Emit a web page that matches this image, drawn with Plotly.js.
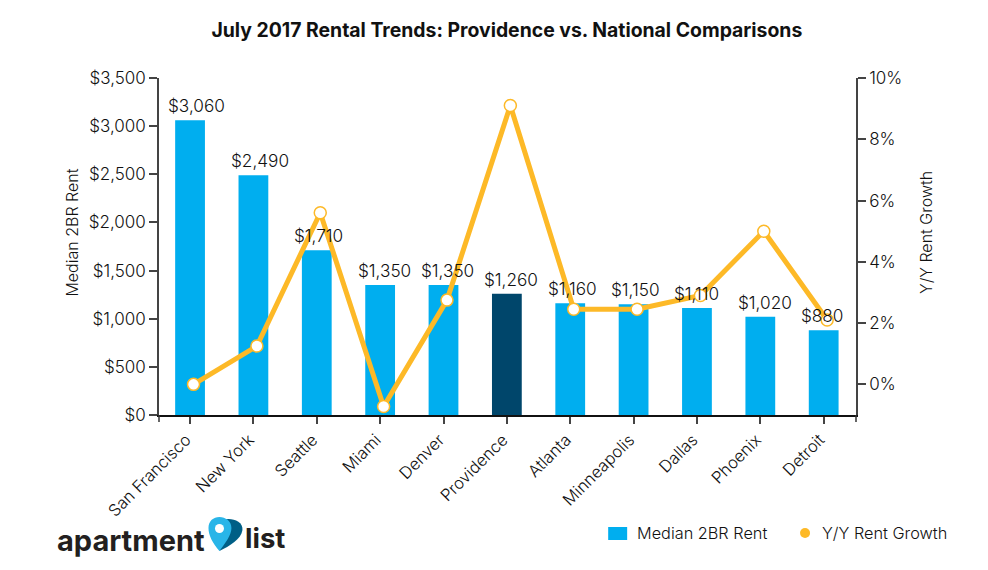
<!DOCTYPE html>
<html><head><meta charset="utf-8">
<script src="https://cdn.plot.ly/plotly-3.0.1.min.js"></script>
<style>html,body{margin:0;padding:0;background:#fff}#c{width:988px;height:570px}</style>
</head><body><div id="c"></div>
<script>
const cities=["San Francisco","New York","Seattle","Miami","Denver","Providence","Atlanta","Minneapolis","Dallas","Phoenix","Detroit"];
const rent=[3060,2490,1710,1350,1350,1260,1160,1150,1110,1020,880];
const growth=[0,1.25,5.6,-0.72,2.75,9.1,2.45,2.45,2.9,5.0,2.1];
const barColors=["#00AEEF","#00AEEF","#00AEEF","#00AEEF","#00AEEF","#00466B","#00AEEF","#00AEEF","#00AEEF","#00AEEF","#00AEEF"];
const rentTicks=[0,500,1000,1500,2000,2500,3000,3500];
const rentTickText=["$0","$500","$1,000","$1,500","$2,000","$2,500","$3,000","$3,500"];
const growthTicks=[0,2,4,6,8,10];
const growthTickText=["0%","2%","4%","6%","8%","10%"];
const F="Inter, sans-serif", INK="#111", YEL="#FDB927", BLUE="#00AEEF";
const W=988,H=570,L=158.5,R=856,T=78,B=415;
const px=(x)=>(x-L)/(R-L), py=(y)=>(B-y)/(B-T);
function pathPx(cmds){return cmds.map(c=>typeof c==="string"?c:px(c[0]).toFixed(4)+","+py(c[1]).toFixed(4)).join(" ");}
const light={family:F,color:INK,weight:300};
const traces=[
 {type:"bar",name:"Median 2BR Rent",x:cities,y:rent,marker:{color:barColors},width:0.47,yaxis:"y",showlegend:false},
 {type:"scatter",mode:"lines+markers",name:"Y/Y Rent Growth",x:cities,y:growth,xaxis:"x2",yaxis:"y2",showlegend:false,
  line:{color:YEL,width:5},marker:{size:12,color:"#fff",line:{color:YEL,width:1.5}},cliponaxis:false}
];
const annotations=cities.map((c,i)=>({x:c,y:rent[i],xref:"x",yref:"y",text:"$"+rent[i].toLocaleString("en-US"),
  showarrow:false,xanchor:"left",xshift:-24.5,yanchor:"bottom",yshift:2,font:Object.assign({},light,{size:17.2})}));
const note=(x,y,text,font,extra)=>Object.assign({xref:"paper",yref:"paper",x:px(x),y:py(y),text:text,showarrow:false,font:font,xanchor:"center",yanchor:"middle"},extra||{});
annotations.push(
 note(54,540,"apartment",{family:F,size:29,color:"#231f20",weight:700},{xanchor:"left"}),
 note(243,538,"list",{family:F,size:27.5,color:"#231f20",weight:700},{xanchor:"left"}),
 note(71,233,"Median 2BR Rent",Object.assign({},light,{size:16}),{textangle:-90}),
 note(926,232,"Y/Y Rent Growth",Object.assign({},light,{size:16}),{textangle:-90}),
 note(635,533,"Median 2BR Rent",Object.assign({},light,{size:16.3}),{xanchor:"left"}),
 note(820,533,"Y/Y Rent Growth",Object.assign({},light,{size:16.3}),{xanchor:"left"})
);
const shapes=[
 {type:"path",xref:"paper",yref:"paper",fillcolor:"#005F86",line:{width:0},
  path:pathPx(["M",[222,520],"C",[229,517],[243,520],[242,530],"C",[241,539],[229,546],[219,551],"Z"])},
 {type:"path",xref:"paper",yref:"paper",fillcolor:"#29B5E8",line:{width:0},
  path:pathPx(["M",[219,551],"C",[212,543],[208,535],[208,528],"C",[208,521],[213,517],[219,517],"C",[225,517],[231,521],[231,528],"C",[231,535],[225,543],[219,551],"Z"])},
 {type:"circle",xref:"paper",yref:"paper",x0:px(214.5),x1:px(223.5),y0:py(533),y1:py(524),fillcolor:"#fff",line:{width:0}},
 {type:"rect",xref:"paper",yref:"paper",x0:px(608),x1:px(627),y0:py(540),y1:py(527),fillcolor:BLUE,line:{width:0}},
 {type:"circle",xref:"paper",yref:"paper",x0:px(800),x1:px(810),y0:py(538),y1:py(528),fillcolor:YEL,line:{width:0}},
 {type:"line",xref:"paper",yref:"paper",x0:0,x1:0,y0:0,y1:py(422),line:{color:"#333",width:1.5}},
 {type:"line",xref:"paper",yref:"paper",x0:1,x1:1,y0:0,y1:py(422),line:{color:"#333",width:1.5}}
];
const axisLine={showline:true,linecolor:"#444",linewidth:1.5,ticks:"outside",tickcolor:"#444",tickwidth:1.5,ticklen:8,showgrid:false,zeroline:false};
const layout={
 width:W,height:H,margin:{l:L,r:W-R,t:T,b:H-B,pad:0},paper_bgcolor:"#fff",plot_bgcolor:"#fff",
 font:{family:F,color:INK},showlegend:false,
 title:{text:"July 2017 Rental Trends: Providence vs. National Comparisons",font:{family:F,size:19.4,color:"#111",weight:700},x:0.513,xanchor:"center",y:0.947,yanchor:"middle"},
 xaxis:Object.assign({},axisLine,{linecolor:"#111",ticklen:7,type:"category",categoryorder:"array",categoryarray:cities,range:[-0.49,10.51],tickangle:-45,ticklabelshift:-4,tickfont:Object.assign({},light,{size:16.5})}),
 xaxis2:{overlaying:"x",visible:false,type:"category",categoryorder:"array",categoryarray:cities,range:[-0.545,10.455]},
 yaxis:Object.assign({},axisLine,{range:[0,3500],tickvals:rentTicks,ticktext:rentTickText,tickfont:Object.assign({},light,{size:17})}),
 yaxis2:Object.assign({},axisLine,{overlaying:"y",side:"right",range:[-1,10],tickvals:growthTicks,ticktext:growthTickText,tickfont:Object.assign({},light,{size:17})}),
 annotations:annotations,shapes:shapes
};
Plotly.newPlot("c",traces,layout,{displayModeBar:false});
</script></body></html>
